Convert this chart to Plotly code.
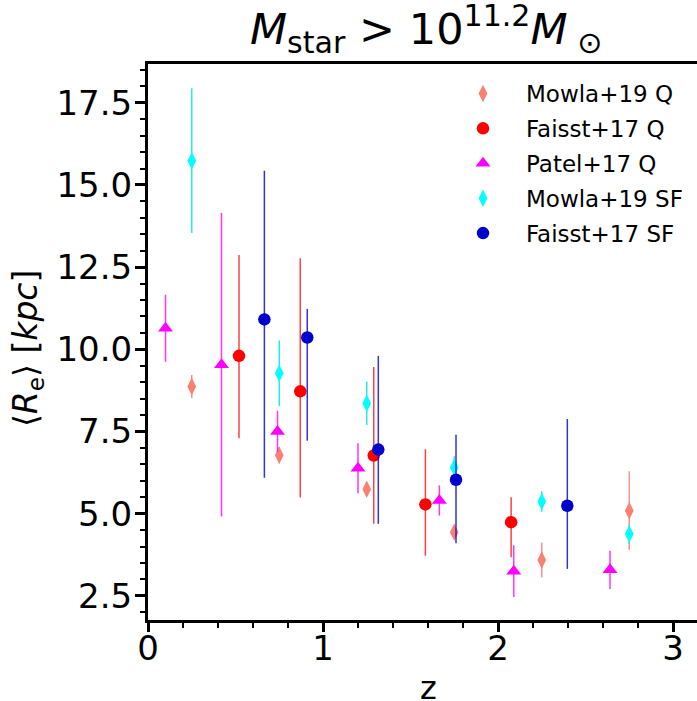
import plotly.graph_objects as go

# ---- data ----
mowla_q_z = [0.25, 0.75, 1.25, 1.75, 2.25, 2.75]
mowla_q_re = [8.87, 6.78, 5.74, 4.43, 3.59, 5.09]
mowla_q_err = [0.35, 0.25, 0.2, 0.2, 0.53, 1.2]

faisst_q_z = [0.52, 0.87, 1.29, 1.585, 2.075]
faisst_q_re = [9.80, 8.72, 6.77, 5.28, 4.74]
faisst_q_up = [3.07, 4.05, 2.69, 1.68, 0.76]
faisst_q_lo = [2.51, 3.23, 2.08, 1.56, 1.07]

patel_q_z = [0.1, 0.42, 0.74, 1.2, 1.665, 2.09, 2.64]
patel_q_re = [10.64, 9.53, 7.50, 6.38, 5.40, 3.25, 3.29]
patel_q_err = [1.02, 4.62, 0.63, 0.76, 0.46, 0.79, 0.58]

mowla_sf_z = [0.25, 0.75, 1.25, 1.75, 2.25, 2.75]
mowla_sf_re = [15.74, 9.27, 8.36, 6.40, 5.37, 4.38]
mowla_sf_err = [2.2, 1.0, 0.66, 0.35, 0.31, 0.3]

faisst_sf_z = [0.665, 0.91, 1.316, 1.76, 2.396]
faisst_sf_re = [10.91, 10.36, 6.95, 6.03, 5.24]
faisst_sf_up = [4.52, 0.87, 2.85, 1.37, 2.64]
faisst_sf_lo = [4.82, 3.14, 2.26, 1.93, 1.92]

FONT = "DejaVu Sans"

fig = go.Figure()


def add(name, x, y, up, lo, color, ecolor, symbol, size):
    fig.add_trace(go.Scatter(
        x=x, y=y, mode="markers", name=name, legendgroup=name,
        marker=dict(color=color, symbol=symbol, size=size, line=dict(width=0)),
        error_y=dict(type="data", array=up, arrayminus=lo, symmetric=False,
                     color=ecolor, thickness=1.5, width=0),
    ))


add("Mowla+19 Q", mowla_q_z, mowla_q_re, mowla_q_err, mowla_q_err,
    "#FA8072", "rgba(250,128,114,0.85)", "diamond-tall", 12.5)
add("Faisst+17 Q", faisst_q_z, faisst_q_re, faisst_q_up, faisst_q_lo,
    "#FF0000", "rgba(255,0,0,0.75)", "circle", 12.5)
add("Patel+17 Q", patel_q_z, patel_q_re, patel_q_err, patel_q_err,
    "#FF00FF", "rgba(255,0,255,0.8)", "triangle-up", 13)
add("Mowla+19 SF", mowla_sf_z, mowla_sf_re, mowla_sf_err, mowla_sf_err,
    "#00FFFF", "rgba(0,230,230,0.85)", "diamond-tall", 12.5)
add("Faisst+17 SF", faisst_sf_z, faisst_sf_re, faisst_sf_up, faisst_sf_lo,
    "#0000CD", "rgba(0,0,205,0.8)", "circle", 12.5)

L, T, B = 148, 64, 620
W, H = 697, 701
plot_w = W - L
plot_h = B - T


def px_x(p):
    return (p - L) / plot_w


def px_y(p):
    return (B - p) / plot_h


fig.update_layout(
    width=W, height=H,
    margin=dict(l=L, r=0, t=T, b=H - B, pad=0),
    paper_bgcolor="white", plot_bgcolor="white",
    font=dict(family=FONT, color="black"),
    showlegend=True,
    legend=dict(x=px_x(440), y=px_y(72), xanchor="left", yanchor="top",
                bgcolor="rgba(0,0,0,0)", borderwidth=0,
                font=dict(size=23, family=FONT), tracegroupgap=2,
                itemsizing="trace", itemwidth=76),
    xaxis=dict(range=[0, 3.137], showgrid=False, zeroline=False,
               showline=True, linecolor="black", linewidth=3, mirror=True,
               ticks="outside", ticklen=9, tickwidth=2.5, tickcolor="black",
               tick0=0, dtick=1, tickfont=dict(size=34, family=FONT),
               ticklabelstandoff=-13,
               minor=dict(ticks="outside", ticklen=5, tickwidth=2,
                          tickcolor="black", dtick=0.2, tick0=0, showgrid=False)),
    yaxis=dict(range=[1.764, 18.68], showgrid=False, zeroline=False,
               showline=True, linecolor="black", linewidth=3,
               ticks="outside", ticklen=10, tickwidth=2.5, tickcolor="black",
               tick0=0, dtick=2.5, tickformat=".1f",
               tickfont=dict(size=34, family=FONT),
               ticklabelstandoff=-4,
               minor=dict(ticks="outside", ticklen=5, tickwidth=2,
                          tickcolor="black", dtick=0.5, tick0=0, showgrid=False)),
)

fig.add_annotation(
    text="<i>M</i><sub>star</sub> > 10<sup>11.2</sup><i>M</i><sub> ⊙</sub>",
    xref="paper", yref="paper", x=px_x(426), y=px_y(62),
    xanchor="center", yanchor="bottom", showarrow=False,
    font=dict(size=43, family=FONT, color="black"),
)
fig.add_annotation(
    text="z", xref="paper", yref="paper", x=px_x(428), y=px_y(709),
    xanchor="center", yanchor="bottom", showarrow=False,
    font=dict(size=32, family=FONT, color="black"),
)
fig.add_annotation(
    text="⟨<i>R</i><sub>e</sub>⟩ [<i>kpc</i>]", xref="paper", yref="paper",
    x=px_x(28), y=px_y(349), xanchor="center", yanchor="middle",
    textangle=-90, showarrow=False,
    font=dict(size=33, family=FONT, color="black"),
)

fig.write_html("out.html")
